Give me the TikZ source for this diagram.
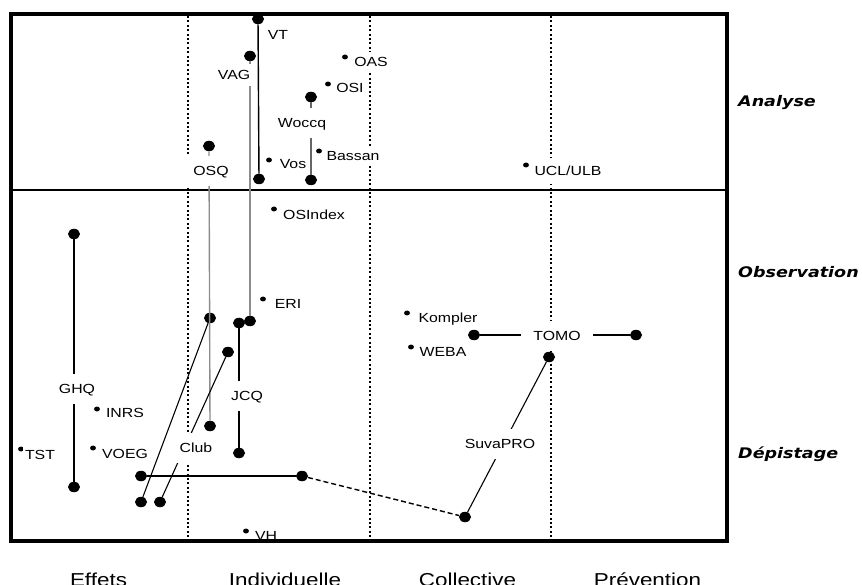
\documentclass[tikz,border=0pt]{standalone}
\usepackage{fontspec}
\usetikzlibrary{shapes.geometric}
\newfontfamily\labfont[FakeStretch=1.2]{Liberation Sans}
\newfontfamily\axfont[FakeStretch=1.2]{DejaVu Sans}
\begin{document}
\begin{tikzpicture}[x=1pt,y=-1pt,
  bigdot/.style={ellipse,fill=black,inner sep=0pt,minimum width=12pt,minimum height=10.5pt},
  smalldot/.style={ellipse,fill=black,inner sep=0pt,minimum width=5.8pt,minimum height=5pt},
  sidelab/.style={font=\labfont\fontsize{13.2}{14}\selectfont,fill=white,inner xsep=2pt,inner ysep=5pt,text height=9.5pt,text depth=0pt},
  onlab/.style={sidelab,inner xsep=12pt,inner ysep=10pt},
  axlab/.style={font=\axfont\bfseries\itshape\fontsize{14.6}{16}\selectfont,anchor=base west,inner sep=0pt},
  botlab/.style={font=\labfont\fontsize{18.7}{20}\selectfont,anchor=base,inner sep=0pt},
  framebox/.style={line width=4pt},
  sepline/.style={line width=1.5pt},
  dotline/.style={line width=2pt,dash pattern=on 2pt off 2.4pt},
  conn/.style={line width=1.4pt},
  grayconn/.style={line width=1.4pt,draw=black!45},
  midconn/.style={line width=1.4pt,draw=black!60},
  thinconn/.style={line width=1.1pt},
  dashconn/.style={line width=1.4pt,dash pattern=on 5pt off 3pt}
]
\useasboundingbox (0,0) rectangle (862,585);
% column dividers
\coordinate (d1t) at (188,16); \coordinate (d1b) at (188,539);
\coordinate (d2t) at (370,16); \coordinate (d2b) at (370,539);
\coordinate (d3t) at (551,16); \coordinate (d3b) at (551,539);
\draw[dotline] (d1t) -- (d1b);
\draw[dotline] (d2t) -- (d2b);
\draw[dotline] (d3t) -- (d3b);
\coordinate (sl) at (11,190); \coordinate (sr) at (727,190);
\draw[sepline] (sl) -- (sr);
% big dots
\node[bigdot] (vt1) at (258,19) {};
\node[bigdot] (vt2) at (259,179) {};
\node[bigdot] (vag1) at (250,56) {};
\node[bigdot] (vag2) at (250,321) {};
\node[bigdot] (osq1) at (209,146) {};
\node[bigdot] (osq2) at (210,318) {};
\node[bigdot] (osq3) at (210,426) {};
\node[bigdot] (wo1) at (311,97) {};
\node[bigdot] (wo2) at (311,180) {};
\node[bigdot] (ghq1) at (74,234) {};
\node[bigdot] (ghq2) at (74,487) {};
\node[bigdot] (jcq1) at (239,323) {};
\node[bigdot] (jcq2) at (239,453) {};
\node[bigdot] (cl0) at (228,352) {};
\node[bigdot] (cl1) at (141,502) {};
\node[bigdot] (cl2) at (160,502) {};
\node[bigdot] (h1) at (141,476) {};
\node[bigdot] (h2) at (302,476) {};
\node[bigdot] (suva2) at (465,517) {};
\node[bigdot] (tomo3) at (549,357) {};
\node[bigdot] (tomo1) at (474,335) {};
\node[bigdot] (tomo2) at (636,335) {};
% small dots
\node[smalldot] (oas) at (345,57) {};
\node[smalldot] (osi) at (328,84) {};
\node[smalldot] (bas) at (319,151) {};
\node[smalldot] (vos) at (269,160) {};
\node[smalldot] (osx) at (274,209) {};
\node[smalldot] (ucl) at (526,165) {};
\node[smalldot] (eri) at (263,299) {};
\node[smalldot] (kom) at (407,313) {};
\node[smalldot] (web) at (411,347) {};
\node[smalldot] (inrs) at (97,409) {};
\node[smalldot] (voeg) at (93,448) {};
\node[smalldot] (tst) at (21,449) {};
\node[smalldot] (vh) at (246,531) {};
% connectors
\draw[conn] (vt1) -- (vt2);
\draw[grayconn] (vag1) -- (vag2);
\draw[grayconn] (osq1) -- (osq3);
\draw[midconn] (wo1) -- (wo2);
\draw[conn] (ghq1) -- (ghq2);
\draw[conn] (jcq1) -- (jcq2);
\draw[thinconn] (osq2) -- (cl1);
\draw[thinconn] (cl0) -- (cl2);
\draw[conn] (h1) -- (h2);
\draw[dashconn] (h2) -- (suva2);
\draw[thinconn] (suva2) -- (tomo3);
\draw[conn] (tomo1) -- (tomo2);
% labels on lines
\node[onlab] (lghq) at (77,389) {GHQ};
\node[onlab] (ljcq) at (247,396) {JCQ};
\node[onlab] (lclub) at (196,448) {Club};
\node[onlab] (losq) at (211,171) {OSQ};
\node[onlab] (lwo) at (302,123) {Woccq};
\node[onlab] (ltomo) at (557,336) {TOMO};
\node[onlab] (lsuva) at (500,444) {SuvaPRO};
% side labels
\node[sidelab] (lvt) at (278,35) {VT};
\node[sidelab,inner ysep=6pt] (lvag) at (234,75) {VAG};
\node[sidelab] (loas) at (371,62) {OAS};
\node[sidelab] (losi) at (350,88) {OSI};
\node[sidelab] (lbas) at (353,156) {Bassan};
\node[sidelab] (lvos) at (293,164) {Vos};
\node[sidelab] (losx) at (314,215) {OSIndex};
\node[sidelab,inner ysep=8pt] (lucl) at (568,171) {UCL/ULB};
\node[sidelab] (leri) at (288,304) {ERI};
\node[sidelab] (lkom) at (448,318) {Kompler};
\node[sidelab] (lweb) at (443,352) {WEBA};
\node[sidelab] (linrs) at (125,413) {INRS};
\node[sidelab] (lvoeg) at (125,454) {VOEG};
\node[sidelab] (ltst) at (40,455) {TST};
\node[sidelab] (lvh) at (266,536) {VH};
% frame
\draw[framebox] (11,14) rectangle (727,541);
% axis labels
\node[axlab] (ana) at (738,107) {Analyse};
\node[axlab] (obs) at (738,278) {Observation};
\node[axlab] (dep) at (738,458) {Dépistage};
\node[botlab] (eff) at (98.5,586) {Effets};
\node[botlab] (ind) at (285,586) {Individuelle};
\node[botlab] (col) at (467.5,586) {Collective};
\node[botlab] (pre) at (647.5,586) {Prévention};
\end{tikzpicture}
\end{document}
